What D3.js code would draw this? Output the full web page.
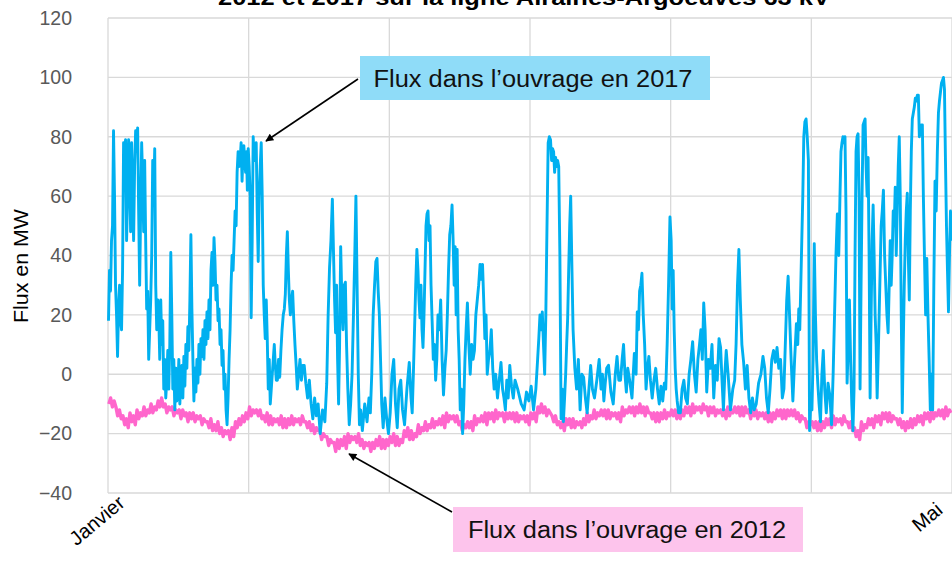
<!DOCTYPE html>
<html><head><meta charset="utf-8">
<script src="https://cdn.jsdelivr.net/npm/d3@7"></script>
<style>body{margin:0;background:#fff}svg{display:block}text{font-family:"Liberation Sans",Arial,sans-serif}</style>
</head><body><svg id="c" width="952" height="573"></svg>
<script>
const titleText = "2012 et 2017 sur la ligne Airaines-Argoeuves 63 kV";
const yTicks = [-40,-20,0,20,40,60,80,100,120];
const xGridDays = [0,20,40,60,80,100,120];
const xLabels = [{day:0,label:"Janvier"},{day:120,label:"Mai"}];
const yTitle = "Flux en MW";
const label2017 = "Flux dans l\u2019ouvrage en 2017";
const label2012 = "Flux dans l\u2019ouvrage en 2012";

// Flux 2017 (MW): readings within each day, day 0 = 1 janvier
const flux2017 = [
[18,35,28,45,50,82,60],[30,20,6,22,30,18,15],[35,78,75,79,45,60,79],[70,48,78,60,45,70,82],
[75,83,55,30,55,78,65],[48,72,45,22,28,5,15],[25,40,72,60,76,30,15],[25,20,5,25,10,18,-5],
[5,-8,-2,8,-5,10,41],[20,-5,5,-12,2,-9,-5],[5,-10,-2,3,-8,6,-4],[10,2,16,8,25,47,22],
[5,-9,2,-6,5,-3,10],[0,12,6,15,5,18,10],[21,12,25,15,35,41,30],[46,38,25,30,18,22,10],
[15,3,8,-5,0,-12,-17],[-8,5,15,30,40,35,45],[55,50,68,75,70,72,78],[65,74,77,72,68,75,62,76],
[70,60,19,45,80,72,76],[78,55,38,60,70,78,60],[30,20,12,25,12,-5,5],[-10,-5,0,5,10,3,-2],
[-2,5,-1,8,15,20],[22,27,40,48,35,25,20],[25,28,18,10,3,-5],[0,5,-2,3,3],
[-3,-8,-2,-10],[-15,-8,-14,-10],[-20,-12,-16],[-3,20,36,45,59],
[40,25,14,30,5,-10,10],[43,25,15,30,31,10],[-5,-17,-10,0,20],[40,60,30,0,-17,-12],
[-19,-10,-16],[-8,-13,0,20,30],[38,39,28,20,5,-10],[-18,-8,-15,-20],
[-13,0,5,-10],[-18,-5,-2,-12],[-17,-5,4],[-8,-13,0,15,30,42],
[35,25,19,30,15,9,20],[35,50,54,55,45,50,30],[18,5,10,-2,5,20],[15,25,5,-7,2],
[8,20,35,47,50,57],[45,30,43,20,42,15,5],[-12,-5,-20,-10,5,15],[24,10,0,10,5],
[8,20,25,30,37],[32,37,25,12,20,0],[5,8,15,2,-5],[0,-8,-2,4],
[-5,-8,-12,-2,-8],[3,-4,-8,-2],[-5,-10],[-12,-6,-9],
[-4,-12,-5],[5,12,20,15,21,10],[0,20,50,78,80,79],[72,76,75,68,73,70,72],
[70,40,-15,-5,-16,-8],[0,10,19,35,50,60,40],[15,2,-5,5],[-12,0,-1,-8],
[-13,-5,3,-5],[-8,-2,5],[-5,0,-9,-3,2],[3,-6,-10],
[0,6,-2,-2],[5,10,0,-6,2],[-2,-8,7],[0,21,15,28,30,34],
[20,10,-5,2,6],[-2,-8,-2,2],[-5,-10,-4,-9],[-3,-5,10,30,53],
[45,22,35,15,2,-5,-9],[-13,-13,-5,-2],[-8,-10,0,5],[11,0,-6,5],
[10,15,5,24,15],[-6,5,2,10],[-8,3,-2,12],[9,-2,-12,0,8],
[0,-12,-5],[-2,10,30,42,25],[10,4,-5,3],[-8,-13,-8,-12],
[-10,-3,0],[6,2,-8,-13],[-5,5,8,4],[9,2,5,-8],
[-5,10,25,33,20],[5,-9,5,17],[10,22,15,30,45,60,80],[85,86,80,72,-19,-10],
[-12,5,44,20,5,-3],[-10,-16,0,8,-5],[-13,-3,-7,-17],[0,20,40,54,40],
[60,75,78,80,78,80,55],[-3,10,25,5,-10,-19],[-5,40,75,80,81,60,-5],[30,60,84,85,86,70,60],
[73,40,-8,20,45,57,40],[20,10,-8,5,20,35,50],[55,62,40,30,20,14],[30,45,30,40,55,50,63],
[40,55,70,80,60,20,-13],[10,30,45,55,61,40,25],[55,75,86,88,90,93,92],[94,94,80,82,84,84,60],
[40,20,39,20,5,-12],[0,-12,30,65,55,75],[88,92,95,98,99,100,96],[72,50,35,21,40,55,45]
];

// Flux 2012 (MW): readings within each day
const flux2012 = [
[-10,-8,-11,-9],[-11,-14,-12,-15],[-14,-17,-15,-18],[-13,-16,-14,-17],[-12,-15,-13,-14],
[-11,-14,-12,-13],[-10,-13,-11,-12],[-9,-11,-8,-11],[-10,-13,-11,-12],[-11,-14,-12,-13],
[-12,-15,-12,-14],[-13,-16,-13,-15],[-13,-16,-14,-15],[-14,-17,-15,-16],[-16,-18,-15,-19],
[-17,-19,-16,-20],[-18,-21,-19,-20],[-19,-22,-18,-21],[-16,-18,-15,-17],[-14,-16,-13,-15],
[-11,-14,-12,-13],[-12,-14,-12,-15],[-14,-16,-13,-17],[-14,-17,-15,-16],[-15,-17,-14,-18],
[-15,-18,-15,-17],[-14,-17,-15,-16],[-15,-17,-14,-16],[-16,-18,-16,-19],[-17,-20,-18,-19],
[-19,-22,-20,-21],[-21,-24,-22,-23],[-23,-26,-22,-25],[-22,-24,-21,-25],[-20,-23,-21,-22],
[-21,-23,-20,-24],[-22,-25,-23,-24],[-23,-26,-23,-25],[-22,-24,-21,-25],[-22,-25,-22,-24],
[-21,-23,-20,-24],[-21,-24,-22,-23],[-19,-21,-18,-22],[-19,-22,-20,-21],[-17,-20,-18,-19],
[-16,-19,-17,-18],[-15,-18,-16,-17],[-15,-17,-14,-18],[-13,-16,-14,-15],[-14,-16,-14,-17],
[-16,-19,-17,-18],[-16,-18,-16,-19],[-14,-17,-15,-16],[-14,-16,-13,-17],[-13,-15,-13,-16],
[-12,-15,-13,-14],[-13,-16,-13,-15],[-13,-15,-13,-16],[-13,-16,-14,-15],[-14,-16,-14,-17],
[-13,-15,-13,-16],[-11,-13,-10,-13],[-11,-14,-12,-13],[-14,-16,-14,-17],[-16,-18,-16,-19],
[-15,-17,-15,-18],[-15,-18,-16,-17],[-16,-18,-15,-17],[-13,-16,-14,-15],[-12,-15,-13,-14],
[-12,-14,-12,-15],[-12,-15,-13,-14],[-13,-15,-13,-16],[-11,-14,-12,-13],[-11,-13,-11,-14],
[-11,-13,-10,-13],[-11,-14,-11,-13],[-13,-15,-13,-16],[-13,-16,-13,-15],[-12,-15,-13,-14],
[-12,-14,-12,-15],[-12,-15,-12,-14],[-11,-13,-11,-14],[-10,-13,-11,-12],[-11,-13,-10,-12],
[-11,-14,-11,-13],[-11,-14,-12,-13],[-12,-14,-12,-15],[-11,-14,-12,-13],[-11,-13,-11,-14],
[-11,-14,-11,-13],[-12,-15,-12,-14],[-12,-15,-13,-14],[-13,-15,-13,-16],[-13,-16,-13,-15],
[-12,-14,-12,-15],[-12,-15,-12,-14],[-12,-14,-12,-15],[-13,-16,-14,-15],[-15,-18,-16,-17],
[-16,-18,-16,-19],[-16,-19,-16,-18],[-15,-17,-15,-18],[-14,-17,-15,-16],[-15,-17,-14,-16],
[-16,-18,-16,-19],[-18,-21,-19,-22],[-16,-19,-17,-18],[-15,-17,-15,-18],[-14,-16,-14,-17],
[-13,-15,-13,-16],[-13,-16,-14,-15],[-15,-17,-15,-18],[-16,-19,-16,-18],[-15,-18,-15,-17],
[-14,-16,-14,-17],[-13,-15,-13,-16],[-12,-15,-13,-14],[-12,-14,-12,-15],[-11,-14,-12,-13]
];

function flatten(arr){
  const out=[];
  arr.forEach((vals,d)=>{const n=vals.length;vals.forEach((v,j)=>out.push({t:d+(j+0.5)/n,v}));});
  return out;
}

const svg=d3.select("#c");
const L=108,R=952,T=18,B=493;
const x=d3.scaleLinear().domain([0,120]).range([L,R]);
const y=d3.scaleLinear().domain([-40,120]).range([B,T]);
const grid="#d9d9d9";

// gridlines
svg.append("g").selectAll("line").data(yTicks).join("line")
  .attr("x1",L).attr("x2",R).attr("y1",d=>y(d)).attr("y2",d=>y(d))
  .attr("stroke",grid).attr("stroke-width",1.3);
svg.append("g").selectAll("line").data(xGridDays).join("line")
  .attr("x1",d=>x(d)).attr("x2",d=>x(d)).attr("y1",T).attr("y2",B)
  .attr("stroke",grid).attr("stroke-width",1.3);

// y axis labels
const yAxis=d3.axisLeft(y).tickValues(yTicks).tickSize(0).tickPadding(36);
const ga=svg.append("g").attr("transform",`translate(${L},0)`).call(yAxis);
ga.select(".domain").remove();
ga.selectAll("text").attr("font-size",19.5).attr("fill","#595959").attr("font-family","Liberation Sans, Arial, sans-serif");

// x labels
svg.append("g").selectAll("text").data(xLabels).join("text")
  .attr("transform",d=>`translate(${x(d.day)+(d.day===0?18:-8)},${d.day===0?505:512}) rotate(-40)`)
  .attr("text-anchor","end").attr("font-size",20).attr("fill","#000").text(d=>d.label);

// y title
svg.append("text").attr("transform","translate(28,266) rotate(-90)").attr("text-anchor","middle")
  .attr("font-size",20).attr("textLength",114).attr("lengthAdjust","spacingAndGlyphs").attr("fill","#000").text(yTitle);

// title (clipped at top, as in the reference)
svg.append("text").attr("x",524).attr("y",5).attr("text-anchor","middle").attr("font-size",22)
  .attr("font-weight","bold").attr("textLength",612).attr("lengthAdjust","spacingAndGlyphs").text(titleText);

const line=d3.line().x(d=>x(d.t)).y(d=>y(d.v));
svg.append("path").datum(flatten(flux2012)).attr("d",line).attr("fill","none")
  .attr("stroke","#FF66CC").attr("stroke-width",3.4).attr("stroke-linejoin","round");
svg.append("path").datum(flatten(flux2017)).attr("d",line).attr("fill","none")
  .attr("stroke","#00B0F0").attr("stroke-width",2.9).attr("stroke-linejoin","round");

// arrows
const defs=svg.append("defs");
defs.append("marker").attr("id","ah").attr("viewBox","0 0 10 10").attr("refX",9).attr("refY",5)
  .attr("markerWidth",9).attr("markerHeight",8).attr("orient","auto").attr("markerUnits","userSpaceOnUse")
  .append("path").attr("d","M0,0L10,5L0,10z").attr("fill","#000");
svg.append("line").attr("x1",358).attr("y1",79).attr("x2",266).attr("y2",141)
  .attr("stroke","#000").attr("stroke-width",1.6).attr("marker-end","url(#ah)");
svg.append("line").attr("x1",452).attr("y1",512).attr("x2",349).attr("y2",454)
  .attr("stroke","#000").attr("stroke-width",1.6).attr("marker-end","url(#ah)");

// annotation boxes
svg.append("rect").attr("x",360).attr("y",56).attr("width",350).attr("height",44).attr("fill","#8FDCF8");
svg.append("text").attr("x",533).attr("y",87).attr("text-anchor","middle").attr("font-size",23)
  .attr("textLength",319).attr("lengthAdjust","spacingAndGlyphs").attr("fill","#111").text(label2017);
svg.append("rect").attr("x",453).attr("y",507).attr("width",350).attr("height",45).attr("fill","#FDC4EC");
svg.append("text").attr("x",627).attr("y",538).attr("text-anchor","middle").attr("font-size",23)
  .attr("textLength",318).attr("lengthAdjust","spacingAndGlyphs").attr("fill","#111").text(label2012);
</script></body></html>
